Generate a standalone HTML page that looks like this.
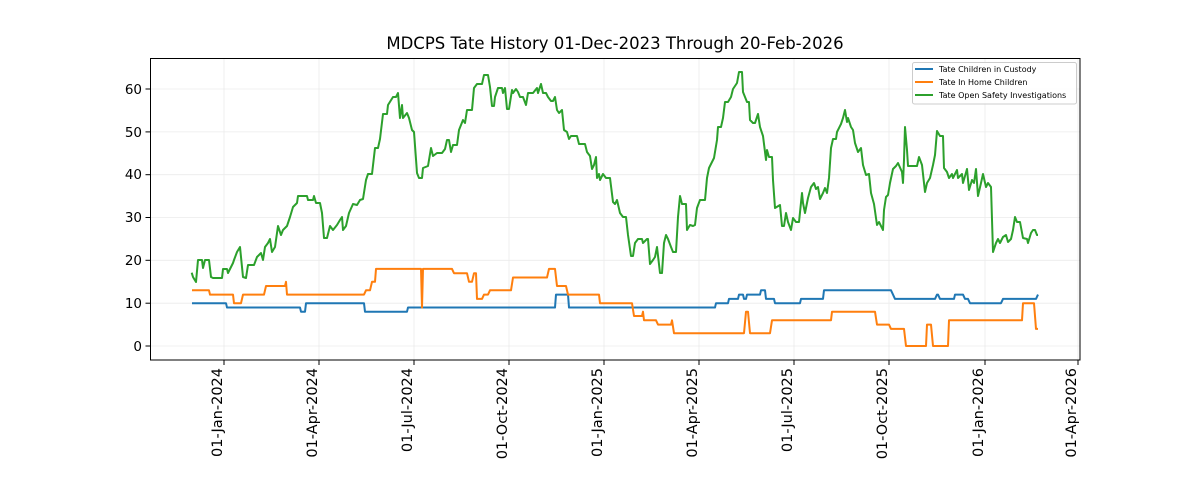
<!DOCTYPE html>
<html><head><meta charset="utf-8"><style>body{margin:0;background:#fff}svg{display:block}text{font-family:"DejaVu Sans","Liberation Sans",sans-serif}</style></head><body>
<svg width="1200" height="480" viewBox="0 0 1200 480" xmlns="http://www.w3.org/2000/svg">
<rect width="1200" height="480" fill="#fff"/>
<g stroke="#ebebeb" stroke-width="0.8">
<line x1="224" y1="58" x2="224" y2="360"/><line x1="319" y1="58" x2="319" y2="360"/><line x1="414" y1="58" x2="414" y2="360"/><line x1="509" y1="58" x2="509" y2="360"/><line x1="604" y1="58" x2="604" y2="360"/><line x1="699" y1="58" x2="699" y2="360"/><line x1="794" y1="58" x2="794" y2="360"/><line x1="889" y1="58" x2="889" y2="360"/><line x1="985" y1="58" x2="985" y2="360"/><line x1="1078" y1="58" x2="1078" y2="360"/>
<line x1="150" y1="346" x2="1080" y2="346"/><line x1="150" y1="303.2" x2="1080" y2="303.2"/><line x1="150" y1="260.3" x2="1080" y2="260.3"/><line x1="150" y1="217.5" x2="1080" y2="217.5"/><line x1="150" y1="174.7" x2="1080" y2="174.7"/><line x1="150" y1="131.9" x2="1080" y2="131.9"/><line x1="150" y1="89" x2="1080" y2="89"/>
</g>
<g fill="none" stroke-width="2" stroke-linejoin="round">
<polyline stroke="#1f77b4" points="192,303.2 226,303.2 227,307.5 300,307.5 301,311.7 305,311.7 306,303.2 364,303.2 365,311.7 407,311.7 408,307.5 555,307.5 556,294.6 568,294.6 569,307.5 715,307.5 716,303.2 728,303.2 729,298.9 738,298.9 739,294.6 743,294.6 744,298.9 746,298.9 747,294.6 760,294.6 761,290.3 765,290.3 766,298.9 774,298.9 775,303.2 800,303.2 801,298.9 823,298.9 824,290.3 891,290.3 893,294.6 895,298.9 935,298.9 937,294.6 938,294.6 940,298.9 954,298.9 955,294.6 963,294.6 965,298.9 968,298.9 970,303.2 1001,303.2 1003,298.9 1036,298.9 1038,294.6"/>
<polyline stroke="#ff7f0e" points="192,290.3 209,290.3 210,294.6 233,294.6 234,303.2 241,303.2 243,294.6 264,294.6 266,286 285,286 286,281.8 287,294.6 364,294.6 366,290.3 370,290.3 372,281.8 375,281.8 376,268.9 421,268.9 422,307.5 423,268.9 452,268.9 454,273.2 467,273.2 469,281.8 472,281.8 474,273.2 476,273.2 477,298.9 482,298.9 484,294.6 488,294.6 490,290.3 511,290.3 513,277.5 547,277.5 549,268.9 555,268.9 557,286 566,286 568,294.6 599,294.6 600,303.2 632,303.2 634,316 642,316 643,311.7 644,320.3 656,320.3 658,324.6 671,324.6 672,320.3 674,333.2 744,333.2 746,311.7 748,311.7 750,333.2 770,333.2 772,320.3 831,320.3 832,311.7 875,311.7 877,324.6 889,324.6 891,328.9 904,328.9 906,346 926,346 927,324.6 931,324.6 933,346 948,346 949,320.3 1022,320.3 1023,303.2 1034,303.2 1036,328.9 1038,328.9"/>
<polyline stroke="#2ca02c" points="191.7,272.7 193,277 196,282 198,260 202,260 203,268 205,260 209,260 211,277 213,278 222,278 223,269 227,269 228,273 233,263 234,260 237,252 240,247 241,257 243,277 246,278 248,265 254,265 257,257 261,253 263,260 265,247 268,243 270,239 272,252 275,247 278,226 281,235 283,230 287,226 290,217 293,207 297,203 298,196 307,196 308,200 313,200 314,196 316,203 320,203 322,213 324,238 327,238 330,226 333,230 337,225 340,220 342,217 343,230 346,226 349,213 353,204 357,205 360,200 363,199 366,180 368,174 372,174 375,148 378,148 380,139 383,114 387,114 388,105 393,97 396,97 398,93 400,118 402,105 403,118 407,113 409,118 412,130 414,132 417,173 419,178 422,178 423,168 428,166 431,148 433,156 437,153 442,153 445,149 447,140 449,140 451,152 453,145 457,145 459,130 463,120 465,123 467,110 472,110 474,88 477,84 482,84 484,75 488,75 490,87 492,106 494,106 495,97 498,88 502,88 503,93 505,88 507,109 509,109 512,90 513,93 516,89 518,92 520,97 523,97 526,105 528,93 533,93 537,88 538,93 541,84 543,93 546,93 548,97 551,101 553,101 555,97 557,110 559,113 562,110 564,130 567,132 569,139 571,136 577,136 579,144 585,144 587,152 590,156 592,169 594,165 596,157 597,178 599,174 600,180 603,174 606,178 610,178 613,202 615,204 617,200 620,213 623,217 626,217 628,235 631,256 633,256 635,243 638,239 642,239 643,243 647,239 648,239 650,264 653,260 655,257 657,247 660,273 662,273 664,243 666,235 668,239 671,247 673,252 676,252 678,217 680,196 682,204 686,204 687,230 690,225 693,226 695,225 697,208 700,200 705,200 707,178 709,168 712,162 714,158 717,140 718,127 721,127 723,118 725,102 728,102 731,97 733,89 737,83 739,72 742,72 743,92 747,102 749,102 750,120 753,123 755,123 758,114 760,127 763,136 766,160 767,150 769,157 772,157 773,180 775,208 780,205 782,226 784,226 786,213 788,222 791,230 793,218 796,222 799,222 802,193 803,203 805,213 808,198 811,187 814,183 816,189 818,187 820,199 823,193 825,188 827,193 829,178 831,148 833,139 836,139 837,132 841,124 843,118 845,110 847,122 848,118 851,127 853,130 855,143 858,152 861,148 863,165 866,175 869,174 871,193 874,204 877,225 879,222 883,230 884,210 886,197 888,195 890,183 893,169 896,166 898,163 902,172 903,183 904,160 905,127 907,150 908,166 917,166 919,157 922,165 925,192 927,183 930,178 933,165 935,155 937,131 940,136 943,136 944,168 947,172 949,178 952,174 953,178 957,170 958,178 962,174 963,183 967,169 969,190 972,180 974,183 976,169 978,196 981,183 983,174 986,187 988,183 991,187 993,252 996,243 998,239 1000,243 1003,237 1006,235 1008,242 1011,239 1013,230 1015,217 1017,222 1020,222 1023,238 1027,239 1028,243 1031,233 1033,230 1035,230 1037,235 1038,235"/>
</g>
<rect x="150.5" y="58.5" width="929.5" height="301.5" fill="none" stroke="#000" stroke-width="1"/>
<g stroke="#000" stroke-width="1">
<line x1="145.5" y1="346" x2="150.5" y2="346"/><line x1="145.5" y1="303.2" x2="150.5" y2="303.2"/><line x1="145.5" y1="260.3" x2="150.5" y2="260.3"/><line x1="145.5" y1="217.5" x2="150.5" y2="217.5"/><line x1="145.5" y1="174.7" x2="150.5" y2="174.7"/><line x1="145.5" y1="131.9" x2="150.5" y2="131.9"/><line x1="145.5" y1="89" x2="150.5" y2="89"/>
<line x1="224" y1="360" x2="224" y2="365"/><line x1="319" y1="360" x2="319" y2="365"/><line x1="414" y1="360" x2="414" y2="365"/><line x1="509" y1="360" x2="509" y2="365"/><line x1="604" y1="360" x2="604" y2="365"/><line x1="699" y1="360" x2="699" y2="365"/><line x1="794" y1="360" x2="794" y2="365"/><line x1="889" y1="360" x2="889" y2="365"/><line x1="985" y1="360" x2="985" y2="365"/><line x1="1078" y1="360" x2="1078" y2="365"/>
</g>
<g font-size="13.5" text-anchor="end" fill="#000">
<text x="142" y="351">0</text><text x="142" y="308">10</text><text x="142" y="265">20</text><text x="142" y="222">30</text><text x="142" y="179">40</text><text x="142" y="137">50</text><text x="142" y="94">60</text>
</g>
<g font-size="14.5" text-anchor="end" fill="#000">
<text transform="translate(222,368) rotate(-90)">01-Jan-2024</text>
<text transform="translate(317,368) rotate(-90)">01-Apr-2024</text>
<text transform="translate(412,368) rotate(-90)">01-Jul-2024</text>
<text transform="translate(507,368) rotate(-90)">01-Oct-2024</text>
<text transform="translate(602,368) rotate(-90)">01-Jan-2025</text>
<text transform="translate(697,368) rotate(-90)">01-Apr-2025</text>
<text transform="translate(792,368) rotate(-90)">01-Jul-2025</text>
<text transform="translate(887,368) rotate(-90)">01-Oct-2025</text>
<text transform="translate(983,368) rotate(-90)">01-Jan-2026</text>
<text transform="translate(1076,368) rotate(-90)">01-Apr-2026</text>
</g>
<text x="615" y="49" font-size="16.5" text-anchor="middle" fill="#000">MDCPS Tate History 01-Dec-2023 Through 20-Feb-2026</text>
<rect x="912.5" y="62.5" width="164" height="41.5" rx="2" fill="#fff" fill-opacity="0.8" stroke="#ccc"/>
<g stroke-width="2"><line x1="915" y1="69" x2="933" y2="69" stroke="#1f77b4"/><line x1="915" y1="82" x2="933" y2="82" stroke="#ff7f0e"/><line x1="915" y1="95" x2="933" y2="95" stroke="#2ca02c"/></g>
<g font-size="8" fill="#000"><text x="939" y="72">Tate Children in Custody</text><text x="939" y="85">Tate In Home Children</text><text x="939" y="98">Tate Open Safety Investigations</text></g>
</svg>
</body></html>
